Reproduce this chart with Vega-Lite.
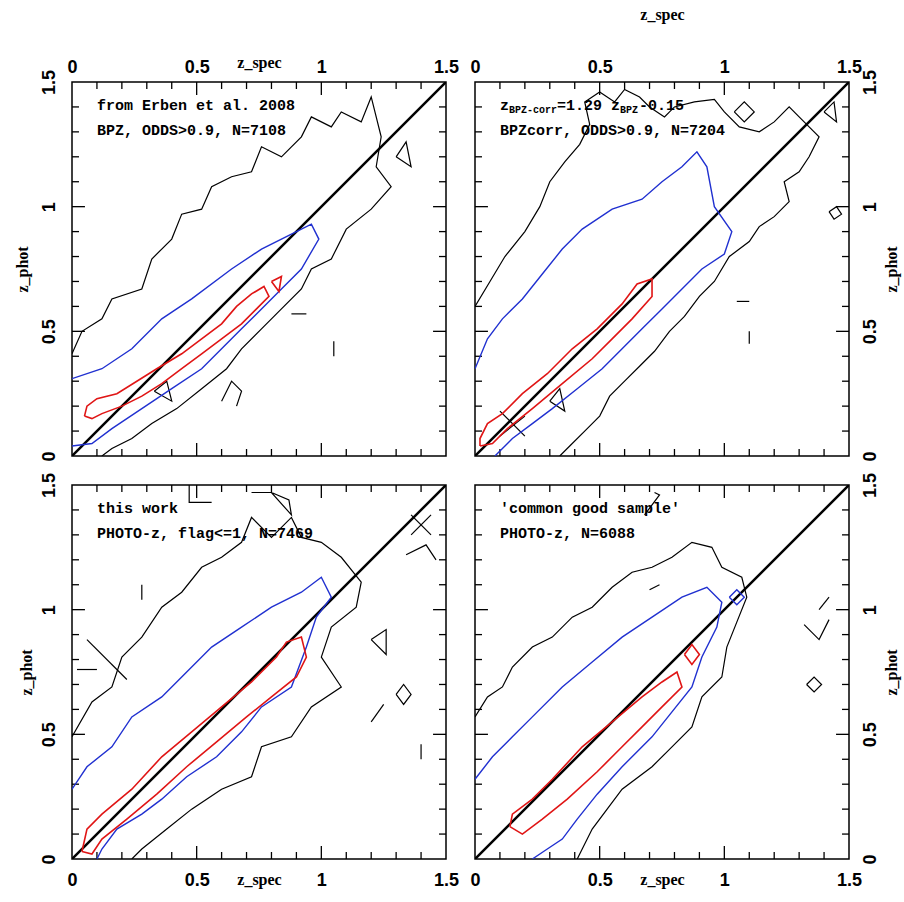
{
"$schema": "https://vega.github.io/schema/vega-lite/v6.json",
"background": "white",
"autosize": {"type": "pad"},
"padding": {"left": 13, "top": 5, "right": 3, "bottom": 3},
"config": {
  "view": {"stroke": "black", "strokeWidth": 1.5},
  "axis": {"domain": false, "grid": false, "ticks": false, "labelFont": "Liberation Sans", "labelFontSize": 18, "labelFontWeight": "bold", "labelColor": "black", "titleFont": "Liberation Serif", "titleFontSize": 16, "titleFontWeight": "bold", "titleColor": "black", "labelFlush": false, "labelOverlap": false}
},
"datasets": {
"d": [
{"p":0,"c":"t","g":"b1","i":0,"x":0.1,"y":0},{"p":0,"c":"t","g":"b1","i":1,"x":0.1,"y":0.028},{"p":0,"c":"t","g":"b2","i":0,"x":0.2,"y":0},{"p":0,"c":"t","g":"b2","i":1,"x":0.2,"y":0.028},{"p":0,"c":"t","g":"b3","i":0,"x":0.3,"y":0},{"p":0,"c":"t","g":"b3","i":1,"x":0.3,"y":0.028},{"p":0,"c":"t","g":"b4","i":0,"x":0.4,"y":0},{"p":0,"c":"t","g":"b4","i":1,"x":0.4,"y":0.028},{"p":0,"c":"t","g":"b5","i":0,"x":0.5,"y":0},{"p":0,"c":"t","g":"b5","i":1,"x":0.5,"y":0.052},{"p":0,"c":"t","g":"b6","i":0,"x":0.6,"y":0},{"p":0,"c":"t","g":"b6","i":1,"x":0.6,"y":0.028},{"p":0,"c":"t","g":"b7","i":0,"x":0.7,"y":0},{"p":0,"c":"t","g":"b7","i":1,"x":0.7,"y":0.028},{"p":0,"c":"t","g":"b8","i":0,"x":0.8,"y":0},{"p":0,"c":"t","g":"b8","i":1,"x":0.8,"y":0.028},{"p":0,"c":"t","g":"b9","i":0,"x":0.9,"y":0},{"p":0,"c":"t","g":"b9","i":1,"x":0.9,"y":0.028},{"p":0,"c":"t","g":"b10","i":0,"x":1.0,"y":0},{"p":0,"c":"t","g":"b10","i":1,"x":1.0,"y":0.052},{"p":0,"c":"t","g":"b11","i":0,"x":1.1,"y":0},{"p":0,"c":"t","g":"b11","i":1,"x":1.1,"y":0.028},{"p":0,"c":"t","g":"b12","i":0,"x":1.2,"y":0},{"p":0,"c":"t","g":"b12","i":1,"x":1.2,"y":0.028},{"p":0,"c":"t","g":"b13","i":0,"x":1.3,"y":0},{"p":0,"c":"t","g":"b13","i":1,"x":1.3,"y":0.028},{"p":0,"c":"t","g":"b14","i":0,"x":1.4,"y":0},{"p":0,"c":"t","g":"b14","i":1,"x":1.4,"y":0.028},
{"p":0,"c":"t","g":"t1","i":0,"x":0.1,"y":1.5},{"p":0,"c":"t","g":"t1","i":1,"x":0.1,"y":1.472},{"p":0,"c":"t","g":"t2","i":0,"x":0.2,"y":1.5},{"p":0,"c":"t","g":"t2","i":1,"x":0.2,"y":1.472},{"p":0,"c":"t","g":"t3","i":0,"x":0.3,"y":1.5},{"p":0,"c":"t","g":"t3","i":1,"x":0.3,"y":1.472},{"p":0,"c":"t","g":"t4","i":0,"x":0.4,"y":1.5},{"p":0,"c":"t","g":"t4","i":1,"x":0.4,"y":1.472},{"p":0,"c":"t","g":"t5","i":0,"x":0.5,"y":1.5},{"p":0,"c":"t","g":"t5","i":1,"x":0.5,"y":1.448},{"p":0,"c":"t","g":"t6","i":0,"x":0.6,"y":1.5},{"p":0,"c":"t","g":"t6","i":1,"x":0.6,"y":1.472},{"p":0,"c":"t","g":"t7","i":0,"x":0.7,"y":1.5},{"p":0,"c":"t","g":"t7","i":1,"x":0.7,"y":1.472},{"p":0,"c":"t","g":"t8","i":0,"x":0.8,"y":1.5},{"p":0,"c":"t","g":"t8","i":1,"x":0.8,"y":1.472},{"p":0,"c":"t","g":"t9","i":0,"x":0.9,"y":1.5},{"p":0,"c":"t","g":"t9","i":1,"x":0.9,"y":1.472},{"p":0,"c":"t","g":"t10","i":0,"x":1.0,"y":1.5},{"p":0,"c":"t","g":"t10","i":1,"x":1.0,"y":1.448},{"p":0,"c":"t","g":"t11","i":0,"x":1.1,"y":1.5},{"p":0,"c":"t","g":"t11","i":1,"x":1.1,"y":1.472},{"p":0,"c":"t","g":"t12","i":0,"x":1.2,"y":1.5},{"p":0,"c":"t","g":"t12","i":1,"x":1.2,"y":1.472},{"p":0,"c":"t","g":"t13","i":0,"x":1.3,"y":1.5},{"p":0,"c":"t","g":"t13","i":1,"x":1.3,"y":1.472},{"p":0,"c":"t","g":"t14","i":0,"x":1.4,"y":1.5},{"p":0,"c":"t","g":"t14","i":1,"x":1.4,"y":1.472},
{"p":0,"c":"t","g":"l1","i":0,"x":0,"y":0.1},{"p":0,"c":"t","g":"l1","i":1,"x":0.028,"y":0.1},{"p":0,"c":"t","g":"l2","i":0,"x":0,"y":0.2},{"p":0,"c":"t","g":"l2","i":1,"x":0.028,"y":0.2},{"p":0,"c":"t","g":"l3","i":0,"x":0,"y":0.3},{"p":0,"c":"t","g":"l3","i":1,"x":0.028,"y":0.3},{"p":0,"c":"t","g":"l4","i":0,"x":0,"y":0.4},{"p":0,"c":"t","g":"l4","i":1,"x":0.028,"y":0.4},{"p":0,"c":"t","g":"l5","i":0,"x":0,"y":0.5},{"p":0,"c":"t","g":"l5","i":1,"x":0.052,"y":0.5},{"p":0,"c":"t","g":"l6","i":0,"x":0,"y":0.6},{"p":0,"c":"t","g":"l6","i":1,"x":0.028,"y":0.6},{"p":0,"c":"t","g":"l7","i":0,"x":0,"y":0.7},{"p":0,"c":"t","g":"l7","i":1,"x":0.028,"y":0.7},{"p":0,"c":"t","g":"l8","i":0,"x":0,"y":0.8},{"p":0,"c":"t","g":"l8","i":1,"x":0.028,"y":0.8},{"p":0,"c":"t","g":"l9","i":0,"x":0,"y":0.9},{"p":0,"c":"t","g":"l9","i":1,"x":0.028,"y":0.9},{"p":0,"c":"t","g":"l10","i":0,"x":0,"y":1.0},{"p":0,"c":"t","g":"l10","i":1,"x":0.052,"y":1.0},{"p":0,"c":"t","g":"l11","i":0,"x":0,"y":1.1},{"p":0,"c":"t","g":"l11","i":1,"x":0.028,"y":1.1},{"p":0,"c":"t","g":"l12","i":0,"x":0,"y":1.2},{"p":0,"c":"t","g":"l12","i":1,"x":0.028,"y":1.2},{"p":0,"c":"t","g":"l13","i":0,"x":0,"y":1.3},{"p":0,"c":"t","g":"l13","i":1,"x":0.028,"y":1.3},{"p":0,"c":"t","g":"l14","i":0,"x":0,"y":1.4},{"p":0,"c":"t","g":"l14","i":1,"x":0.028,"y":1.4},
{"p":0,"c":"t","g":"r1","i":0,"x":1.5,"y":0.1},{"p":0,"c":"t","g":"r1","i":1,"x":1.472,"y":0.1},{"p":0,"c":"t","g":"r2","i":0,"x":1.5,"y":0.2},{"p":0,"c":"t","g":"r2","i":1,"x":1.472,"y":0.2},{"p":0,"c":"t","g":"r3","i":0,"x":1.5,"y":0.3},{"p":0,"c":"t","g":"r3","i":1,"x":1.472,"y":0.3},{"p":0,"c":"t","g":"r4","i":0,"x":1.5,"y":0.4},{"p":0,"c":"t","g":"r4","i":1,"x":1.472,"y":0.4},{"p":0,"c":"t","g":"r5","i":0,"x":1.5,"y":0.5},{"p":0,"c":"t","g":"r5","i":1,"x":1.448,"y":0.5},{"p":0,"c":"t","g":"r6","i":0,"x":1.5,"y":0.6},{"p":0,"c":"t","g":"r6","i":1,"x":1.472,"y":0.6},{"p":0,"c":"t","g":"r7","i":0,"x":1.5,"y":0.7},{"p":0,"c":"t","g":"r7","i":1,"x":1.472,"y":0.7},{"p":0,"c":"t","g":"r8","i":0,"x":1.5,"y":0.8},{"p":0,"c":"t","g":"r8","i":1,"x":1.472,"y":0.8},{"p":0,"c":"t","g":"r9","i":0,"x":1.5,"y":0.9},{"p":0,"c":"t","g":"r9","i":1,"x":1.472,"y":0.9},{"p":0,"c":"t","g":"r10","i":0,"x":1.5,"y":1.0},{"p":0,"c":"t","g":"r10","i":1,"x":1.448,"y":1.0},{"p":0,"c":"t","g":"r11","i":0,"x":1.5,"y":1.1},{"p":0,"c":"t","g":"r11","i":1,"x":1.472,"y":1.1},{"p":0,"c":"t","g":"r12","i":0,"x":1.5,"y":1.2},{"p":0,"c":"t","g":"r12","i":1,"x":1.472,"y":1.2},{"p":0,"c":"t","g":"r13","i":0,"x":1.5,"y":1.3},{"p":0,"c":"t","g":"r13","i":1,"x":1.472,"y":1.3},{"p":0,"c":"t","g":"r14","i":0,"x":1.5,"y":1.4},{"p":0,"c":"t","g":"r14","i":1,"x":1.472,"y":1.4},
{"p":1,"c":"k","g":1,"i":0,"x":0,"y":0.41},{"p":1,"c":"k","g":1,"i":1,"x":0.04,"y":0.5},{"p":1,"c":"k","g":1,"i":2,"x":0.12,"y":0.55},{"p":1,"c":"k","g":1,"i":3,"x":0.16,"y":0.63},{"p":1,"c":"k","g":1,"i":4,"x":0.28,"y":0.67},{"p":1,"c":"k","g":1,"i":5,"x":0.32,"y":0.79},{"p":1,"c":"k","g":1,"i":6,"x":0.4,"y":0.87},{"p":1,"c":"k","g":1,"i":7,"x":0.44,"y":0.97},{"p":1,"c":"k","g":1,"i":8,"x":0.52,"y":0.99},{"p":1,"c":"k","g":1,"i":9,"x":0.56,"y":1.08},{"p":1,"c":"k","g":1,"i":10,"x":0.64,"y":1.12},{"p":1,"c":"k","g":1,"i":11,"x":0.72,"y":1.14},{"p":1,"c":"k","g":1,"i":12,"x":0.76,"y":1.24},{"p":1,"c":"k","g":1,"i":13,"x":0.84,"y":1.2},{"p":1,"c":"k","g":1,"i":14,"x":0.92,"y":1.28},{"p":1,"c":"k","g":1,"i":15,"x":0.96,"y":1.36},{"p":1,"c":"k","g":1,"i":16,"x":1.04,"y":1.32},{"p":1,"c":"k","g":1,"i":17,"x":1.08,"y":1.38},{"p":1,"c":"k","g":1,"i":18,"x":1.16,"y":1.34},{"p":1,"c":"k","g":1,"i":19,"x":1.2,"y":1.44},{"p":1,"c":"k","g":1,"i":20,"x":1.24,"y":1.28},{"p":1,"c":"k","g":1,"i":21,"x":1.22,"y":1.16},{"p":1,"c":"k","g":1,"i":22,"x":1.28,"y":1.08},{"p":1,"c":"k","g":1,"i":23,"x":1.2,"y":0.99},{"p":1,"c":"k","g":1,"i":24,"x":1.1,"y":0.91},{"p":1,"c":"k","g":1,"i":25,"x":1.04,"y":0.79},{"p":1,"c":"k","g":1,"i":26,"x":0.96,"y":0.75},{"p":1,"c":"k","g":1,"i":27,"x":0.92,"y":0.67},{"p":1,"c":"k","g":1,"i":28,"x":0.84,"y":0.59},{"p":1,"c":"k","g":1,"i":29,"x":0.76,"y":0.51},{"p":1,"c":"k","g":1,"i":30,"x":0.68,"y":0.43},{"p":1,"c":"k","g":1,"i":31,"x":0.62,"y":0.35},{"p":1,"c":"k","g":1,"i":32,"x":0.52,"y":0.27},{"p":1,"c":"k","g":1,"i":33,"x":0.42,"y":0.19},{"p":1,"c":"k","g":1,"i":34,"x":0.32,"y":0.13},{"p":1,"c":"k","g":1,"i":35,"x":0.24,"y":0.07},{"p":1,"c":"k","g":1,"i":36,"x":0.16,"y":0.03},{"p":1,"c":"k","g":1,"i":37,"x":0.12,"y":0},
{"p":1,"c":"k","g":2,"i":0,"x":0.33,"y":0.26},{"p":1,"c":"k","g":2,"i":1,"x":0.4,"y":0.22},{"p":1,"c":"k","g":2,"i":2,"x":0.38,"y":0.3},{"p":1,"c":"k","g":2,"i":3,"x":0.33,"y":0.26},
{"p":1,"c":"k","g":3,"i":0,"x":0.6,"y":0.22},{"p":1,"c":"k","g":3,"i":1,"x":0.64,"y":0.3},{"p":1,"c":"k","g":3,"i":2,"x":0.68,"y":0.26},{"p":1,"c":"k","g":3,"i":3,"x":0.66,"y":0.2},
{"p":1,"c":"k","g":4,"i":0,"x":0.88,"y":0.57},{"p":1,"c":"k","g":4,"i":1,"x":0.94,"y":0.57},
{"p":1,"c":"k","g":5,"i":0,"x":1.05,"y":0.4},{"p":1,"c":"k","g":5,"i":1,"x":1.05,"y":0.46},
{"p":1,"c":"k","g":6,"i":0,"x":1.3,"y":1.2},{"p":1,"c":"k","g":6,"i":1,"x":1.36,"y":1.16},{"p":1,"c":"k","g":6,"i":2,"x":1.34,"y":1.26},{"p":1,"c":"k","g":6,"i":3,"x":1.3,"y":1.2},
{"p":1,"c":"b","g":10,"i":0,"x":0,"y":0.31},{"p":1,"c":"b","g":10,"i":1,"x":0.12,"y":0.35},{"p":1,"c":"b","g":10,"i":2,"x":0.24,"y":0.43},{"p":1,"c":"b","g":10,"i":3,"x":0.36,"y":0.55},{"p":1,"c":"b","g":10,"i":4,"x":0.48,"y":0.63},{"p":1,"c":"b","g":10,"i":5,"x":0.64,"y":0.75},{"p":1,"c":"b","g":10,"i":6,"x":0.76,"y":0.83},{"p":1,"c":"b","g":10,"i":7,"x":0.88,"y":0.89},{"p":1,"c":"b","g":10,"i":8,"x":0.96,"y":0.93},{"p":1,"c":"b","g":10,"i":9,"x":0.99,"y":0.87},{"p":1,"c":"b","g":10,"i":10,"x":0.92,"y":0.75},{"p":1,"c":"b","g":10,"i":11,"x":0.84,"y":0.67},{"p":1,"c":"b","g":10,"i":12,"x":0.76,"y":0.59},{"p":1,"c":"b","g":10,"i":13,"x":0.68,"y":0.51},{"p":1,"c":"b","g":10,"i":14,"x":0.6,"y":0.43},{"p":1,"c":"b","g":10,"i":15,"x":0.52,"y":0.35},{"p":1,"c":"b","g":10,"i":16,"x":0.4,"y":0.27},{"p":1,"c":"b","g":10,"i":17,"x":0.28,"y":0.19},{"p":1,"c":"b","g":10,"i":18,"x":0.16,"y":0.11},{"p":1,"c":"b","g":10,"i":19,"x":0.08,"y":0.05},{"p":1,"c":"b","g":10,"i":20,"x":0,"y":0.04},
{"p":1,"c":"r","g":20,"i":0,"x":0.05,"y":0.16},{"p":1,"c":"r","g":20,"i":1,"x":0.06,"y":0.2},{"p":1,"c":"r","g":20,"i":2,"x":0.1,"y":0.23},{"p":1,"c":"r","g":20,"i":3,"x":0.18,"y":0.25},{"p":1,"c":"r","g":20,"i":4,"x":0.26,"y":0.3},{"p":1,"c":"r","g":20,"i":5,"x":0.34,"y":0.35},{"p":1,"c":"r","g":20,"i":6,"x":0.44,"y":0.41},{"p":1,"c":"r","g":20,"i":7,"x":0.52,"y":0.47},{"p":1,"c":"r","g":20,"i":8,"x":0.6,"y":0.53},{"p":1,"c":"r","g":20,"i":9,"x":0.66,"y":0.6},{"p":1,"c":"r","g":20,"i":10,"x":0.72,"y":0.65},{"p":1,"c":"r","g":20,"i":11,"x":0.77,"y":0.68},{"p":1,"c":"r","g":20,"i":12,"x":0.79,"y":0.64},{"p":1,"c":"r","g":20,"i":13,"x":0.74,"y":0.59},{"p":1,"c":"r","g":20,"i":14,"x":0.68,"y":0.53},{"p":1,"c":"r","g":20,"i":15,"x":0.6,"y":0.47},{"p":1,"c":"r","g":20,"i":16,"x":0.52,"y":0.41},{"p":1,"c":"r","g":20,"i":17,"x":0.44,"y":0.35},{"p":1,"c":"r","g":20,"i":18,"x":0.36,"y":0.29},{"p":1,"c":"r","g":20,"i":19,"x":0.28,"y":0.24},{"p":1,"c":"r","g":20,"i":20,"x":0.2,"y":0.2},{"p":1,"c":"r","g":20,"i":21,"x":0.12,"y":0.17},{"p":1,"c":"r","g":20,"i":22,"x":0.08,"y":0.15},{"p":1,"c":"r","g":20,"i":23,"x":0.05,"y":0.16},
{"p":1,"c":"r","g":21,"i":0,"x":0.8,"y":0.7},{"p":1,"c":"r","g":21,"i":1,"x":0.84,"y":0.72},{"p":1,"c":"r","g":21,"i":2,"x":0.83,"y":0.66},{"p":1,"c":"r","g":21,"i":3,"x":0.8,"y":0.7},
{"p":2,"c":"k","g":1,"i":0,"x":0,"y":0.6},{"p":2,"c":"k","g":1,"i":1,"x":0.06,"y":0.7},{"p":2,"c":"k","g":1,"i":2,"x":0.12,"y":0.8},{"p":2,"c":"k","g":1,"i":3,"x":0.2,"y":0.9},{"p":2,"c":"k","g":1,"i":4,"x":0.26,"y":1.0},{"p":2,"c":"k","g":1,"i":5,"x":0.3,"y":1.1},{"p":2,"c":"k","g":1,"i":6,"x":0.36,"y":1.18},{"p":2,"c":"k","g":1,"i":7,"x":0.42,"y":1.25},{"p":2,"c":"k","g":1,"i":8,"x":0.46,"y":1.33},{"p":2,"c":"k","g":1,"i":9,"x":0.44,"y":1.42},{"p":2,"c":"k","g":1,"i":10,"x":0.5,"y":1.46},{"p":2,"c":"k","g":1,"i":11,"x":0.56,"y":1.42},{"p":2,"c":"k","g":1,"i":12,"x":0.6,"y":1.47},{"p":2,"c":"k","g":1,"i":13,"x":0.66,"y":1.44},{"p":2,"c":"k","g":1,"i":14,"x":0.7,"y":1.4},{"p":2,"c":"k","g":1,"i":15,"x":0.76,"y":1.36},{"p":2,"c":"k","g":1,"i":16,"x":0.8,"y":1.4},{"p":2,"c":"k","g":1,"i":17,"x":0.88,"y":1.42},{"p":2,"c":"k","g":1,"i":18,"x":0.96,"y":1.43},{"p":2,"c":"k","g":1,"i":19,"x":1.0,"y":1.38},{"p":2,"c":"k","g":1,"i":20,"x":1.06,"y":1.32},{"p":2,"c":"k","g":1,"i":21,"x":1.14,"y":1.3},{"p":2,"c":"k","g":1,"i":22,"x":1.2,"y":1.34},{"p":2,"c":"k","g":1,"i":23,"x":1.26,"y":1.4},{"p":2,"c":"k","g":1,"i":24,"x":1.3,"y":1.36},{"p":2,"c":"k","g":1,"i":25,"x":1.34,"y":1.32},{"p":2,"c":"k","g":1,"i":26,"x":1.38,"y":1.28},{"p":2,"c":"k","g":1,"i":27,"x":1.34,"y":1.2},{"p":2,"c":"k","g":1,"i":28,"x":1.3,"y":1.14},{"p":2,"c":"k","g":1,"i":29,"x":1.24,"y":1.1},{"p":2,"c":"k","g":1,"i":30,"x":1.26,"y":1.02},{"p":2,"c":"k","g":1,"i":31,"x":1.2,"y":0.96},{"p":2,"c":"k","g":1,"i":32,"x":1.14,"y":0.92},{"p":2,"c":"k","g":1,"i":33,"x":1.1,"y":0.86},{"p":2,"c":"k","g":1,"i":34,"x":1.02,"y":0.8},{"p":2,"c":"k","g":1,"i":35,"x":0.96,"y":0.7},{"p":2,"c":"k","g":1,"i":36,"x":0.9,"y":0.64},{"p":2,"c":"k","g":1,"i":37,"x":0.84,"y":0.56},{"p":2,"c":"k","g":1,"i":38,"x":0.78,"y":0.5},{"p":2,"c":"k","g":1,"i":39,"x":0.72,"y":0.42},{"p":2,"c":"k","g":1,"i":40,"x":0.66,"y":0.36},{"p":2,"c":"k","g":1,"i":41,"x":0.6,"y":0.3},{"p":2,"c":"k","g":1,"i":42,"x":0.54,"y":0.24},{"p":2,"c":"k","g":1,"i":43,"x":0.5,"y":0.16},{"p":2,"c":"k","g":1,"i":44,"x":0.44,"y":0.1},{"p":2,"c":"k","g":1,"i":45,"x":0.38,"y":0.04},{"p":2,"c":"k","g":1,"i":46,"x":0.34,"y":0},
{"p":2,"c":"k","g":2,"i":0,"x":1.04,"y":1.38},{"p":2,"c":"k","g":2,"i":1,"x":1.08,"y":1.42},{"p":2,"c":"k","g":2,"i":2,"x":1.12,"y":1.38},{"p":2,"c":"k","g":2,"i":3,"x":1.08,"y":1.34},{"p":2,"c":"k","g":2,"i":4,"x":1.04,"y":1.38},
{"p":2,"c":"k","g":3,"i":0,"x":1.4,"y":1.38},{"p":2,"c":"k","g":3,"i":1,"x":1.44,"y":1.42},{"p":2,"c":"k","g":3,"i":2,"x":1.45,"y":1.34},{"p":2,"c":"k","g":3,"i":3,"x":1.4,"y":1.38},
{"p":2,"c":"k","g":4,"i":0,"x":1.42,"y":0.98},{"p":2,"c":"k","g":4,"i":1,"x":1.45,"y":1.0},{"p":2,"c":"k","g":4,"i":2,"x":1.47,"y":0.97},{"p":2,"c":"k","g":4,"i":3,"x":1.44,"y":0.95},{"p":2,"c":"k","g":4,"i":4,"x":1.42,"y":0.98},
{"p":2,"c":"k","g":5,"i":0,"x":1.05,"y":0.62},{"p":2,"c":"k","g":5,"i":1,"x":1.1,"y":0.62},
{"p":2,"c":"k","g":6,"i":0,"x":1.1,"y":0.45},{"p":2,"c":"k","g":6,"i":1,"x":1.1,"y":0.5},
{"p":2,"c":"k","g":7,"i":0,"x":0.1,"y":0.18},{"p":2,"c":"k","g":7,"i":1,"x":0.2,"y":0.08},
{"p":2,"c":"k","g":8,"i":0,"x":0.1,"y":0.08},{"p":2,"c":"k","g":8,"i":1,"x":0.2,"y":0.16},
{"p":2,"c":"k","g":9,"i":0,"x":0.3,"y":0.22},{"p":2,"c":"k","g":9,"i":1,"x":0.36,"y":0.18},{"p":2,"c":"k","g":9,"i":2,"x":0.34,"y":0.27},{"p":2,"c":"k","g":9,"i":3,"x":0.3,"y":0.22},
{"p":2,"c":"b","g":10,"i":0,"x":0,"y":0.35},{"p":2,"c":"b","g":10,"i":1,"x":0.05,"y":0.47},{"p":2,"c":"b","g":10,"i":2,"x":0.11,"y":0.55},{"p":2,"c":"b","g":10,"i":3,"x":0.19,"y":0.63},{"p":2,"c":"b","g":10,"i":4,"x":0.27,"y":0.73},{"p":2,"c":"b","g":10,"i":5,"x":0.35,"y":0.83},{"p":2,"c":"b","g":10,"i":6,"x":0.43,"y":0.91},{"p":2,"c":"b","g":10,"i":7,"x":0.55,"y":0.99},{"p":2,"c":"b","g":10,"i":8,"x":0.67,"y":1.03},{"p":2,"c":"b","g":10,"i":9,"x":0.75,"y":1.1},{"p":2,"c":"b","g":10,"i":10,"x":0.83,"y":1.16},{"p":2,"c":"b","g":10,"i":11,"x":0.89,"y":1.22},{"p":2,"c":"b","g":10,"i":12,"x":0.93,"y":1.16},{"p":2,"c":"b","g":10,"i":13,"x":0.96,"y":1.0},{"p":2,"c":"b","g":10,"i":14,"x":1.03,"y":0.9},{"p":2,"c":"b","g":10,"i":15,"x":1.0,"y":0.81},{"p":2,"c":"b","g":10,"i":16,"x":0.91,"y":0.75},{"p":2,"c":"b","g":10,"i":17,"x":0.83,"y":0.67},{"p":2,"c":"b","g":10,"i":18,"x":0.75,"y":0.59},{"p":2,"c":"b","g":10,"i":19,"x":0.67,"y":0.51},{"p":2,"c":"b","g":10,"i":20,"x":0.59,"y":0.43},{"p":2,"c":"b","g":10,"i":21,"x":0.51,"y":0.35},{"p":2,"c":"b","g":10,"i":22,"x":0.41,"y":0.27},{"p":2,"c":"b","g":10,"i":23,"x":0.31,"y":0.19},{"p":2,"c":"b","g":10,"i":24,"x":0.23,"y":0.13},{"p":2,"c":"b","g":10,"i":25,"x":0.15,"y":0.07},{"p":2,"c":"b","g":10,"i":26,"x":0.09,"y":0.01},{"p":2,"c":"b","g":10,"i":27,"x":0.08,"y":0},
{"p":2,"c":"r","g":20,"i":0,"x":0.02,"y":0.04},{"p":2,"c":"r","g":20,"i":1,"x":0.02,"y":0.07},{"p":2,"c":"r","g":20,"i":2,"x":0.05,"y":0.13},{"p":2,"c":"r","g":20,"i":3,"x":0.11,"y":0.17},{"p":2,"c":"r","g":20,"i":4,"x":0.19,"y":0.25},{"p":2,"c":"r","g":20,"i":5,"x":0.29,"y":0.33},{"p":2,"c":"r","g":20,"i":6,"x":0.39,"y":0.43},{"p":2,"c":"r","g":20,"i":7,"x":0.49,"y":0.51},{"p":2,"c":"r","g":20,"i":8,"x":0.59,"y":0.61},{"p":2,"c":"r","g":20,"i":9,"x":0.65,"y":0.69},{"p":2,"c":"r","g":20,"i":10,"x":0.71,"y":0.71},{"p":2,"c":"r","g":20,"i":11,"x":0.71,"y":0.64},{"p":2,"c":"r","g":20,"i":12,"x":0.63,"y":0.55},{"p":2,"c":"r","g":20,"i":13,"x":0.55,"y":0.47},{"p":2,"c":"r","g":20,"i":14,"x":0.47,"y":0.39},{"p":2,"c":"r","g":20,"i":15,"x":0.35,"y":0.29},{"p":2,"c":"r","g":20,"i":16,"x":0.23,"y":0.19},{"p":2,"c":"r","g":20,"i":17,"x":0.13,"y":0.11},{"p":2,"c":"r","g":20,"i":18,"x":0.07,"y":0.05},{"p":2,"c":"r","g":20,"i":19,"x":0.02,"y":0.04},
{"p":3,"c":"k","g":1,"i":0,"x":0,"y":0.49},{"p":3,"c":"k","g":1,"i":1,"x":0.08,"y":0.63},{"p":3,"c":"k","g":1,"i":2,"x":0.16,"y":0.69},{"p":3,"c":"k","g":1,"i":3,"x":0.2,"y":0.81},{"p":3,"c":"k","g":1,"i":4,"x":0.28,"y":0.89},{"p":3,"c":"k","g":1,"i":5,"x":0.36,"y":1.01},{"p":3,"c":"k","g":1,"i":6,"x":0.44,"y":1.07},{"p":3,"c":"k","g":1,"i":7,"x":0.52,"y":1.17},{"p":3,"c":"k","g":1,"i":8,"x":0.6,"y":1.21},{"p":3,"c":"k","g":1,"i":9,"x":0.68,"y":1.27},{"p":3,"c":"k","g":1,"i":10,"x":0.72,"y":1.37},{"p":3,"c":"k","g":1,"i":11,"x":0.8,"y":1.29},{"p":3,"c":"k","g":1,"i":12,"x":0.88,"y":1.37},{"p":3,"c":"k","g":1,"i":13,"x":0.92,"y":1.29},{"p":3,"c":"k","g":1,"i":14,"x":1.0,"y":1.27},{"p":3,"c":"k","g":1,"i":15,"x":1.08,"y":1.21},{"p":3,"c":"k","g":1,"i":16,"x":1.16,"y":1.11},{"p":3,"c":"k","g":1,"i":17,"x":1.14,"y":1.01},{"p":3,"c":"k","g":1,"i":18,"x":1.04,"y":0.93},{"p":3,"c":"k","g":1,"i":19,"x":1.0,"y":0.81},{"p":3,"c":"k","g":1,"i":20,"x":1.08,"y":0.69},{"p":3,"c":"k","g":1,"i":21,"x":0.96,"y":0.61},{"p":3,"c":"k","g":1,"i":22,"x":0.88,"y":0.49},{"p":3,"c":"k","g":1,"i":23,"x":0.76,"y":0.45},{"p":3,"c":"k","g":1,"i":24,"x":0.72,"y":0.33},{"p":3,"c":"k","g":1,"i":25,"x":0.6,"y":0.28},{"p":3,"c":"k","g":1,"i":26,"x":0.48,"y":0.2},{"p":3,"c":"k","g":1,"i":27,"x":0.38,"y":0.12},{"p":3,"c":"k","g":1,"i":28,"x":0.28,"y":0.04},{"p":3,"c":"k","g":1,"i":29,"x":0.24,"y":0},
{"p":3,"c":"k","g":2,"i":0,"x":0.06,"y":0.88},{"p":3,"c":"k","g":2,"i":1,"x":0.22,"y":0.72},
{"p":3,"c":"k","g":3,"i":0,"x":0.02,"y":0.76},{"p":3,"c":"k","g":3,"i":1,"x":0.1,"y":0.76},
{"p":3,"c":"k","g":4,"i":0,"x":0.28,"y":1.04},{"p":3,"c":"k","g":4,"i":1,"x":0.28,"y":1.1},
{"p":3,"c":"k","g":5,"i":0,"x":0.47,"y":1.5},{"p":3,"c":"k","g":5,"i":1,"x":0.47,"y":1.43},{"p":3,"c":"k","g":5,"i":2,"x":0.56,"y":1.43},
{"p":3,"c":"k","g":6,"i":0,"x":0.72,"y":1.47},{"p":3,"c":"k","g":6,"i":1,"x":0.8,"y":1.47},{"p":3,"c":"k","g":6,"i":2,"x":0.88,"y":1.38},{"p":3,"c":"k","g":6,"i":3,"x":0.87,"y":1.44},{"p":3,"c":"k","g":6,"i":4,"x":0.8,"y":1.47},
{"p":3,"c":"k","g":7,"i":0,"x":1.36,"y":1.3},{"p":3,"c":"k","g":7,"i":1,"x":1.44,"y":1.38},
{"p":3,"c":"k","g":8,"i":0,"x":1.36,"y":1.38},{"p":3,"c":"k","g":8,"i":1,"x":1.44,"y":1.3},
{"p":3,"c":"k","g":9,"i":0,"x":1.34,"y":1.22},{"p":3,"c":"k","g":9,"i":1,"x":1.42,"y":1.26},{"p":3,"c":"k","g":9,"i":2,"x":1.46,"y":1.2},
{"p":3,"c":"k","g":10,"i":0,"x":1.3,"y":0.66},{"p":3,"c":"k","g":10,"i":1,"x":1.33,"y":0.7},{"p":3,"c":"k","g":10,"i":2,"x":1.36,"y":0.66},{"p":3,"c":"k","g":10,"i":3,"x":1.33,"y":0.62},{"p":3,"c":"k","g":10,"i":4,"x":1.3,"y":0.66},
{"p":3,"c":"k","g":11,"i":0,"x":1.4,"y":0.4},{"p":3,"c":"k","g":11,"i":1,"x":1.4,"y":0.46},
{"p":3,"c":"k","g":12,"i":0,"x":1.2,"y":0.55},{"p":3,"c":"k","g":12,"i":1,"x":1.25,"y":0.62},
{"p":3,"c":"k","g":13,"i":0,"x":1.2,"y":0.88},{"p":3,"c":"k","g":13,"i":1,"x":1.26,"y":0.82},{"p":3,"c":"k","g":13,"i":2,"x":1.26,"y":0.92},{"p":3,"c":"k","g":13,"i":3,"x":1.2,"y":0.88},
{"p":3,"c":"b","g":30,"i":0,"x":0,"y":0.28},{"p":3,"c":"b","g":30,"i":1,"x":0.06,"y":0.37},{"p":3,"c":"b","g":30,"i":2,"x":0.16,"y":0.45},{"p":3,"c":"b","g":30,"i":3,"x":0.24,"y":0.57},{"p":3,"c":"b","g":30,"i":4,"x":0.36,"y":0.65},{"p":3,"c":"b","g":30,"i":5,"x":0.44,"y":0.73},{"p":3,"c":"b","g":30,"i":6,"x":0.56,"y":0.85},{"p":3,"c":"b","g":30,"i":7,"x":0.68,"y":0.93},{"p":3,"c":"b","g":30,"i":8,"x":0.8,"y":1.01},{"p":3,"c":"b","g":30,"i":9,"x":0.92,"y":1.07},{"p":3,"c":"b","g":30,"i":10,"x":1.0,"y":1.13},{"p":3,"c":"b","g":30,"i":11,"x":1.04,"y":1.05},{"p":3,"c":"b","g":30,"i":12,"x":0.98,"y":0.97},{"p":3,"c":"b","g":30,"i":13,"x":0.94,"y":0.85},{"p":3,"c":"b","g":30,"i":14,"x":0.88,"y":0.69},{"p":3,"c":"b","g":30,"i":15,"x":0.76,"y":0.61},{"p":3,"c":"b","g":30,"i":16,"x":0.68,"y":0.51},{"p":3,"c":"b","g":30,"i":17,"x":0.58,"y":0.41},{"p":3,"c":"b","g":30,"i":18,"x":0.46,"y":0.33},{"p":3,"c":"b","g":30,"i":19,"x":0.36,"y":0.24},{"p":3,"c":"b","g":30,"i":20,"x":0.28,"y":0.18},{"p":3,"c":"b","g":30,"i":21,"x":0.18,"y":0.12},{"p":3,"c":"b","g":30,"i":22,"x":0.12,"y":0.04},{"p":3,"c":"b","g":30,"i":23,"x":0.1,"y":0},
{"p":3,"c":"r","g":40,"i":0,"x":0.04,"y":0.03},{"p":3,"c":"r","g":40,"i":1,"x":0.06,"y":0.12},{"p":3,"c":"r","g":40,"i":2,"x":0.12,"y":0.18},{"p":3,"c":"r","g":40,"i":3,"x":0.24,"y":0.28},{"p":3,"c":"r","g":40,"i":4,"x":0.36,"y":0.41},{"p":3,"c":"r","g":40,"i":5,"x":0.48,"y":0.51},{"p":3,"c":"r","g":40,"i":6,"x":0.6,"y":0.61},{"p":3,"c":"r","g":40,"i":7,"x":0.72,"y":0.71},{"p":3,"c":"r","g":40,"i":8,"x":0.82,"y":0.81},{"p":3,"c":"r","g":40,"i":9,"x":0.86,"y":0.87},{"p":3,"c":"r","g":40,"i":10,"x":0.92,"y":0.89},{"p":3,"c":"r","g":40,"i":11,"x":0.94,"y":0.81},{"p":3,"c":"r","g":40,"i":12,"x":0.9,"y":0.73},{"p":3,"c":"r","g":40,"i":13,"x":0.8,"y":0.65},{"p":3,"c":"r","g":40,"i":14,"x":0.7,"y":0.57},{"p":3,"c":"r","g":40,"i":15,"x":0.58,"y":0.47},{"p":3,"c":"r","g":40,"i":16,"x":0.46,"y":0.37},{"p":3,"c":"r","g":40,"i":17,"x":0.34,"y":0.26},{"p":3,"c":"r","g":40,"i":18,"x":0.22,"y":0.16},{"p":3,"c":"r","g":40,"i":19,"x":0.12,"y":0.08},{"p":3,"c":"r","g":40,"i":20,"x":0.08,"y":0.02},{"p":3,"c":"r","g":40,"i":21,"x":0.04,"y":0.03},
{"p":4,"c":"k","g":1,"i":0,"x":0,"y":0.57},{"p":4,"c":"k","g":1,"i":1,"x":0.05,"y":0.65},{"p":4,"c":"k","g":1,"i":2,"x":0.11,"y":0.69},{"p":4,"c":"k","g":1,"i":3,"x":0.15,"y":0.77},{"p":4,"c":"k","g":1,"i":4,"x":0.23,"y":0.85},{"p":4,"c":"k","g":1,"i":5,"x":0.31,"y":0.89},{"p":4,"c":"k","g":1,"i":6,"x":0.39,"y":0.97},{"p":4,"c":"k","g":1,"i":7,"x":0.47,"y":1.01},{"p":4,"c":"k","g":1,"i":8,"x":0.55,"y":1.09},{"p":4,"c":"k","g":1,"i":9,"x":0.63,"y":1.15},{"p":4,"c":"k","g":1,"i":10,"x":0.71,"y":1.17},{"p":4,"c":"k","g":1,"i":11,"x":0.79,"y":1.21},{"p":4,"c":"k","g":1,"i":12,"x":0.87,"y":1.27},{"p":4,"c":"k","g":1,"i":13,"x":0.95,"y":1.25},{"p":4,"c":"k","g":1,"i":14,"x":0.99,"y":1.17},{"p":4,"c":"k","g":1,"i":15,"x":1.07,"y":1.13},{"p":4,"c":"k","g":1,"i":16,"x":1.09,"y":1.05},{"p":4,"c":"k","g":1,"i":17,"x":1.05,"y":0.95},{"p":4,"c":"k","g":1,"i":18,"x":1.01,"y":0.85},{"p":4,"c":"k","g":1,"i":19,"x":0.99,"y":0.73},{"p":4,"c":"k","g":1,"i":20,"x":0.91,"y":0.65},{"p":4,"c":"k","g":1,"i":21,"x":0.87,"y":0.53},{"p":4,"c":"k","g":1,"i":22,"x":0.79,"y":0.45},{"p":4,"c":"k","g":1,"i":23,"x":0.71,"y":0.37},{"p":4,"c":"k","g":1,"i":24,"x":0.59,"y":0.28},{"p":4,"c":"k","g":1,"i":25,"x":0.53,"y":0.2},{"p":4,"c":"k","g":1,"i":26,"x":0.47,"y":0.12},{"p":4,"c":"k","g":1,"i":27,"x":0.43,"y":0.04},{"p":4,"c":"k","g":1,"i":28,"x":0.41,"y":0},
{"p":4,"c":"k","g":2,"i":0,"x":0.68,"y":1.38},{"p":4,"c":"k","g":2,"i":1,"x":0.74,"y":1.46},{"p":4,"c":"k","g":2,"i":2,"x":0.72,"y":1.47},
{"p":4,"c":"k","g":3,"i":0,"x":0.7,"y":1.08},{"p":4,"c":"k","g":3,"i":1,"x":0.74,"y":1.1},
{"p":4,"c":"k","g":4,"i":0,"x":1.32,"y":0.94},{"p":4,"c":"k","g":4,"i":1,"x":1.38,"y":0.88},{"p":4,"c":"k","g":4,"i":2,"x":1.42,"y":0.96},
{"p":4,"c":"k","g":5,"i":0,"x":1.38,"y":1.0},{"p":4,"c":"k","g":5,"i":1,"x":1.42,"y":1.05},
{"p":4,"c":"k","g":6,"i":0,"x":1.33,"y":0.7},{"p":4,"c":"k","g":6,"i":1,"x":1.36,"y":0.73},{"p":4,"c":"k","g":6,"i":2,"x":1.39,"y":0.7},{"p":4,"c":"k","g":6,"i":3,"x":1.36,"y":0.67},{"p":4,"c":"k","g":6,"i":4,"x":1.33,"y":0.7},
{"p":4,"c":"b","g":10,"i":0,"x":0,"y":0.32},{"p":4,"c":"b","g":10,"i":1,"x":0.07,"y":0.41},{"p":4,"c":"b","g":10,"i":2,"x":0.15,"y":0.49},{"p":4,"c":"b","g":10,"i":3,"x":0.23,"y":0.57},{"p":4,"c":"b","g":10,"i":4,"x":0.35,"y":0.69},{"p":4,"c":"b","g":10,"i":5,"x":0.47,"y":0.79},{"p":4,"c":"b","g":10,"i":6,"x":0.59,"y":0.89},{"p":4,"c":"b","g":10,"i":7,"x":0.71,"y":0.97},{"p":4,"c":"b","g":10,"i":8,"x":0.83,"y":1.05},{"p":4,"c":"b","g":10,"i":9,"x":0.93,"y":1.09},{"p":4,"c":"b","g":10,"i":10,"x":0.99,"y":1.03},{"p":4,"c":"b","g":10,"i":11,"x":0.97,"y":0.93},{"p":4,"c":"b","g":10,"i":12,"x":0.91,"y":0.81},{"p":4,"c":"b","g":10,"i":13,"x":0.87,"y":0.69},{"p":4,"c":"b","g":10,"i":14,"x":0.79,"y":0.59},{"p":4,"c":"b","g":10,"i":15,"x":0.71,"y":0.49},{"p":4,"c":"b","g":10,"i":16,"x":0.59,"y":0.37},{"p":4,"c":"b","g":10,"i":17,"x":0.49,"y":0.26},{"p":4,"c":"b","g":10,"i":18,"x":0.41,"y":0.16},{"p":4,"c":"b","g":10,"i":19,"x":0.35,"y":0.08},{"p":4,"c":"b","g":10,"i":20,"x":0.29,"y":0.04},{"p":4,"c":"b","g":10,"i":21,"x":0.23,"y":0},
{"p":4,"c":"b","g":11,"i":0,"x":1.02,"y":1.05},{"p":4,"c":"b","g":11,"i":1,"x":1.05,"y":1.08},{"p":4,"c":"b","g":11,"i":2,"x":1.08,"y":1.05},{"p":4,"c":"b","g":11,"i":3,"x":1.05,"y":1.02},{"p":4,"c":"b","g":11,"i":4,"x":1.02,"y":1.05},
{"p":4,"c":"r","g":20,"i":0,"x":0.14,"y":0.13},{"p":4,"c":"r","g":20,"i":1,"x":0.15,"y":0.18},{"p":4,"c":"r","g":20,"i":2,"x":0.23,"y":0.24},{"p":4,"c":"r","g":20,"i":3,"x":0.31,"y":0.32},{"p":4,"c":"r","g":20,"i":4,"x":0.43,"y":0.45},{"p":4,"c":"r","g":20,"i":5,"x":0.55,"y":0.55},{"p":4,"c":"r","g":20,"i":6,"x":0.67,"y":0.65},{"p":4,"c":"r","g":20,"i":7,"x":0.75,"y":0.71},{"p":4,"c":"r","g":20,"i":8,"x":0.81,"y":0.75},{"p":4,"c":"r","g":20,"i":9,"x":0.83,"y":0.69},{"p":4,"c":"r","g":20,"i":10,"x":0.75,"y":0.61},{"p":4,"c":"r","g":20,"i":11,"x":0.67,"y":0.53},{"p":4,"c":"r","g":20,"i":12,"x":0.59,"y":0.45},{"p":4,"c":"r","g":20,"i":13,"x":0.49,"y":0.35},{"p":4,"c":"r","g":20,"i":14,"x":0.37,"y":0.24},{"p":4,"c":"r","g":20,"i":15,"x":0.27,"y":0.16},{"p":4,"c":"r","g":20,"i":16,"x":0.19,"y":0.1},{"p":4,"c":"r","g":20,"i":17,"x":0.14,"y":0.13},
{"p":4,"c":"r","g":21,"i":0,"x":0.84,"y":0.82},{"p":4,"c":"r","g":21,"i":1,"x":0.87,"y":0.86},{"p":4,"c":"r","g":21,"i":2,"x":0.9,"y":0.82},{"p":4,"c":"r","g":21,"i":3,"x":0.87,"y":0.78},{"p":4,"c":"r","g":21,"i":4,"x":0.84,"y":0.82}
]
},
"columns": 2,
"spacing": 29,
"bounds": "flush",
"concat": [
{"width": 374, "height": 374, "resolve": {"axis": {"x": "independent", "y": "independent"}},
 "layer": [
  {"data": {"values": [{"x": 0, "y": 0}, {"x": 1.5, "y": 1.5}]}, "mark": {"type": "line", "color": "black", "strokeWidth": 2.5, "clip": true},
   "encoding": {"x": {"field": "x", "type": "quantitative", "scale": {"domain": [0, 1.5], "nice": false, "zero": false}, "axis": {"orient": "top", "values": [0, 0.5, 1, 1.5], "format": "~g", "labelPadding": 6, "title": "z_spec", "titlePadding": -12}},
                "y": {"field": "y", "type": "quantitative", "scale": {"domain": [0, 1.5], "nice": false, "zero": false}, "axis": {"orient": "left", "values": [0, 0.5, 1, 1.5], "format": "~g", "labelAngle": -90, "labelAlign": "center", "labelBaseline": "bottom", "labelPadding": 14, "title": "z_phot", "titleAngle": -90, "titleBaseline": "bottom", "titlePadding": 10}}}},
  {"data": {"name": "d"}, "transform": [{"filter": "datum.c=='t'"}], "mark": {"type": "line", "color": "black", "strokeWidth": 1.3, "clip": true},
   "encoding": {"x": {"field": "x", "type": "quantitative", "scale": {"domain": [0, 1.5], "nice": false, "zero": false}, "axis": null}, "y": {"field": "y", "type": "quantitative", "scale": {"domain": [0, 1.5], "nice": false, "zero": false}, "axis": null}, "detail": {"field": "g", "type": "nominal"}, "order": {"field": "i", "type": "quantitative"}}},
  {"data": {"name": "d"}, "transform": [{"filter": "datum.p==1 && datum.c=='k'"}], "mark": {"type": "line", "color": "black", "strokeWidth": 1.2, "clip": true},
   "encoding": {"x": {"field": "x", "type": "quantitative", "scale": {"domain": [0, 1.5], "nice": false, "zero": false}, "axis": null}, "y": {"field": "y", "type": "quantitative", "scale": {"domain": [0, 1.5], "nice": false, "zero": false}, "axis": null}, "detail": {"field": "g", "type": "nominal"}, "order": {"field": "i", "type": "quantitative"}}},
  {"data": {"name": "d"}, "transform": [{"filter": "datum.p==1 && datum.c=='b'"}], "mark": {"type": "line", "color": "#2030d0", "strokeWidth": 1.4, "clip": true},
   "encoding": {"x": {"field": "x", "type": "quantitative", "scale": {"domain": [0, 1.5], "nice": false, "zero": false}, "axis": null}, "y": {"field": "y", "type": "quantitative", "scale": {"domain": [0, 1.5], "nice": false, "zero": false}, "axis": null}, "detail": {"field": "g", "type": "nominal"}, "order": {"field": "i", "type": "quantitative"}}},
  {"data": {"name": "d"}, "transform": [{"filter": "datum.p==1 && datum.c=='r'"}], "mark": {"type": "line", "color": "#e01515", "strokeWidth": 1.6, "clip": true},
   "encoding": {"x": {"field": "x", "type": "quantitative", "scale": {"domain": [0, 1.5], "nice": false, "zero": false}, "axis": null}, "y": {"field": "y", "type": "quantitative", "scale": {"domain": [0, 1.5], "nice": false, "zero": false}, "axis": null}, "detail": {"field": "g", "type": "nominal"}, "order": {"field": "i", "type": "quantitative"}}},
  {"data": {"values": [{}]}, "mark": {"type": "text", "align": "left", "baseline": "top", "font": "Liberation Mono", "fontSize": 15, "fontWeight": "bold", "lineHeight": 25, "color": "black"},
   "encoding": {"x": {"datum": 0.1, "type": "quantitative", "scale": {"domain": [0, 1.5], "nice": false, "zero": false}, "axis": null}, "y": {"datum": 1.436, "type": "quantitative", "scale": {"domain": [0, 1.5], "nice": false, "zero": false}, "axis": null},
                "text": {"value": ["from Erben et al. 2008", "BPZ, ODDS>0.9, N=7108"]}}}
 ]},
{"width": 374, "height": 374, "resolve": {"axis": {"x": "independent", "y": "independent"}},
 "layer": [
  {"data": {"values": [{"x": 0, "y": 0}, {"x": 1.5, "y": 1.5}]}, "mark": {"type": "line", "color": "black", "strokeWidth": 2.5, "clip": true},
   "encoding": {"x": {"field": "x", "type": "quantitative", "scale": {"domain": [0, 1.5], "nice": false, "zero": false}, "axis": {"orient": "top", "values": [0, 0.5, 1, 1.5], "format": "~g", "labelPadding": 6, "title": "z_spec", "titlePadding": 36}},
                "y": {"field": "y", "type": "quantitative", "scale": {"domain": [0, 1.5], "nice": false, "zero": false}, "axis": {"orient": "right", "values": [0, 0.5, 1, 1.5], "format": "~g", "labelAngle": -90, "labelAlign": "center", "labelBaseline": "top", "labelPadding": 12, "title": "z_phot", "titleAngle": -90, "titleBaseline": "top", "titlePadding": 4}}}},
  {"data": {"name": "d"}, "transform": [{"filter": "datum.c=='t'"}], "mark": {"type": "line", "color": "black", "strokeWidth": 1.3, "clip": true},
   "encoding": {"x": {"field": "x", "type": "quantitative", "scale": {"domain": [0, 1.5], "nice": false, "zero": false}, "axis": null}, "y": {"field": "y", "type": "quantitative", "scale": {"domain": [0, 1.5], "nice": false, "zero": false}, "axis": null}, "detail": {"field": "g", "type": "nominal"}, "order": {"field": "i", "type": "quantitative"}}},
  {"data": {"name": "d"}, "transform": [{"filter": "datum.p==2 && datum.c=='k'"}], "mark": {"type": "line", "color": "black", "strokeWidth": 1.2, "clip": true},
   "encoding": {"x": {"field": "x", "type": "quantitative", "scale": {"domain": [0, 1.5], "nice": false, "zero": false}, "axis": null}, "y": {"field": "y", "type": "quantitative", "scale": {"domain": [0, 1.5], "nice": false, "zero": false}, "axis": null}, "detail": {"field": "g", "type": "nominal"}, "order": {"field": "i", "type": "quantitative"}}},
  {"data": {"name": "d"}, "transform": [{"filter": "datum.p==2 && datum.c=='b'"}], "mark": {"type": "line", "color": "#2030d0", "strokeWidth": 1.4, "clip": true},
   "encoding": {"x": {"field": "x", "type": "quantitative", "scale": {"domain": [0, 1.5], "nice": false, "zero": false}, "axis": null}, "y": {"field": "y", "type": "quantitative", "scale": {"domain": [0, 1.5], "nice": false, "zero": false}, "axis": null}, "detail": {"field": "g", "type": "nominal"}, "order": {"field": "i", "type": "quantitative"}}},
  {"data": {"name": "d"}, "transform": [{"filter": "datum.p==2 && datum.c=='r'"}], "mark": {"type": "line", "color": "#e01515", "strokeWidth": 1.6, "clip": true},
   "encoding": {"x": {"field": "x", "type": "quantitative", "scale": {"domain": [0, 1.5], "nice": false, "zero": false}, "axis": null}, "y": {"field": "y", "type": "quantitative", "scale": {"domain": [0, 1.5], "nice": false, "zero": false}, "axis": null}, "detail": {"field": "g", "type": "nominal"}, "order": {"field": "i", "type": "quantitative"}}},
  {"data": {"values": [{}]}, "mark": {"type": "text", "align": "left", "baseline": "top", "font": "Liberation Mono", "fontSize": 15, "fontWeight": "bold", "color": "black"},
   "encoding": {"x": {"datum": 0.1, "type": "quantitative", "scale": {"domain": [0, 1.5], "nice": false, "zero": false}, "axis": null}, "y": {"datum": 1.436, "type": "quantitative", "scale": {"domain": [0, 1.5], "nice": false, "zero": false}, "axis": null}, "text": {"value": "z"}}},
  {"data": {"values": [{}]}, "mark": {"type": "text", "align": "left", "baseline": "top", "font": "Liberation Mono", "fontSize": 10, "fontWeight": "bold", "color": "black", "dx": 9, "dy": 7},
   "encoding": {"x": {"datum": 0.1, "type": "quantitative", "scale": {"domain": [0, 1.5], "nice": false, "zero": false}, "axis": null}, "y": {"datum": 1.436, "type": "quantitative", "scale": {"domain": [0, 1.5], "nice": false, "zero": false}, "axis": null}, "text": {"value": "BPZ-corr"}}},
  {"data": {"values": [{}]}, "mark": {"type": "text", "align": "left", "baseline": "top", "font": "Liberation Mono", "fontSize": 15, "fontWeight": "bold", "color": "black", "dx": 57},
   "encoding": {"x": {"datum": 0.1, "type": "quantitative", "scale": {"domain": [0, 1.5], "nice": false, "zero": false}, "axis": null}, "y": {"datum": 1.436, "type": "quantitative", "scale": {"domain": [0, 1.5], "nice": false, "zero": false}, "axis": null}, "text": {"value": "=1.29 z"}}},
  {"data": {"values": [{}]}, "mark": {"type": "text", "align": "left", "baseline": "top", "font": "Liberation Mono", "fontSize": 10, "fontWeight": "bold", "color": "black", "dx": 120, "dy": 7},
   "encoding": {"x": {"datum": 0.1, "type": "quantitative", "scale": {"domain": [0, 1.5], "nice": false, "zero": false}, "axis": null}, "y": {"datum": 1.436, "type": "quantitative", "scale": {"domain": [0, 1.5], "nice": false, "zero": false}, "axis": null}, "text": {"value": "BPZ"}}},
  {"data": {"values": [{}]}, "mark": {"type": "text", "align": "left", "baseline": "top", "font": "Liberation Mono", "fontSize": 15, "fontWeight": "bold", "color": "black", "dx": 139},
   "encoding": {"x": {"datum": 0.1, "type": "quantitative", "scale": {"domain": [0, 1.5], "nice": false, "zero": false}, "axis": null}, "y": {"datum": 1.436, "type": "quantitative", "scale": {"domain": [0, 1.5], "nice": false, "zero": false}, "axis": null}, "text": {"value": "-0.15"}}},
  {"data": {"values": [{}]}, "mark": {"type": "text", "align": "left", "baseline": "top", "font": "Liberation Mono", "fontSize": 15, "fontWeight": "bold", "color": "black", "dy": 25},
   "encoding": {"x": {"datum": 0.1, "type": "quantitative", "scale": {"domain": [0, 1.5], "nice": false, "zero": false}, "axis": null}, "y": {"datum": 1.436, "type": "quantitative", "scale": {"domain": [0, 1.5], "nice": false, "zero": false}, "axis": null}, "text": {"value": "BPZcorr, ODDS>0.9, N=7204"}}}
 ]},
{"width": 374, "height": 374, "resolve": {"axis": {"x": "independent", "y": "independent"}},
 "layer": [
  {"data": {"values": [{"x": 0, "y": 0}, {"x": 1.5, "y": 1.5}]}, "mark": {"type": "line", "color": "black", "strokeWidth": 2.5, "clip": true},
   "encoding": {"x": {"field": "x", "type": "quantitative", "scale": {"domain": [0, 1.5], "nice": false, "zero": false}, "axis": {"orient": "bottom", "values": [0, 0.5, 1, 1.5], "format": "~g", "labelPadding": 12, "title": "z_spec", "titlePadding": -18}},
                "y": {"field": "y", "type": "quantitative", "scale": {"domain": [0, 1.5], "nice": false, "zero": false}, "axis": {"orient": "left", "values": [0, 0.5, 1, 1.5], "format": "~g", "labelAngle": -90, "labelAlign": "center", "labelBaseline": "bottom", "labelPadding": 14, "title": "z_phot", "titleAngle": -90, "titleBaseline": "bottom", "titlePadding": 6}}}},
  {"data": {"name": "d"}, "transform": [{"filter": "datum.c=='t'"}], "mark": {"type": "line", "color": "black", "strokeWidth": 1.3, "clip": true},
   "encoding": {"x": {"field": "x", "type": "quantitative", "scale": {"domain": [0, 1.5], "nice": false, "zero": false}, "axis": null}, "y": {"field": "y", "type": "quantitative", "scale": {"domain": [0, 1.5], "nice": false, "zero": false}, "axis": null}, "detail": {"field": "g", "type": "nominal"}, "order": {"field": "i", "type": "quantitative"}}},
  {"data": {"name": "d"}, "transform": [{"filter": "datum.p==3 && datum.c=='k'"}], "mark": {"type": "line", "color": "black", "strokeWidth": 1.2, "clip": true},
   "encoding": {"x": {"field": "x", "type": "quantitative", "scale": {"domain": [0, 1.5], "nice": false, "zero": false}, "axis": null}, "y": {"field": "y", "type": "quantitative", "scale": {"domain": [0, 1.5], "nice": false, "zero": false}, "axis": null}, "detail": {"field": "g", "type": "nominal"}, "order": {"field": "i", "type": "quantitative"}}},
  {"data": {"name": "d"}, "transform": [{"filter": "datum.p==3 && datum.c=='b'"}], "mark": {"type": "line", "color": "#2030d0", "strokeWidth": 1.4, "clip": true},
   "encoding": {"x": {"field": "x", "type": "quantitative", "scale": {"domain": [0, 1.5], "nice": false, "zero": false}, "axis": null}, "y": {"field": "y", "type": "quantitative", "scale": {"domain": [0, 1.5], "nice": false, "zero": false}, "axis": null}, "detail": {"field": "g", "type": "nominal"}, "order": {"field": "i", "type": "quantitative"}}},
  {"data": {"name": "d"}, "transform": [{"filter": "datum.p==3 && datum.c=='r'"}], "mark": {"type": "line", "color": "#e01515", "strokeWidth": 1.6, "clip": true},
   "encoding": {"x": {"field": "x", "type": "quantitative", "scale": {"domain": [0, 1.5], "nice": false, "zero": false}, "axis": null}, "y": {"field": "y", "type": "quantitative", "scale": {"domain": [0, 1.5], "nice": false, "zero": false}, "axis": null}, "detail": {"field": "g", "type": "nominal"}, "order": {"field": "i", "type": "quantitative"}}},
  {"data": {"values": [{}]}, "mark": {"type": "text", "align": "left", "baseline": "top", "font": "Liberation Mono", "fontSize": 15, "fontWeight": "bold", "lineHeight": 25, "color": "black"},
   "encoding": {"x": {"datum": 0.1, "type": "quantitative", "scale": {"domain": [0, 1.5], "nice": false, "zero": false}, "axis": null}, "y": {"datum": 1.436, "type": "quantitative", "scale": {"domain": [0, 1.5], "nice": false, "zero": false}, "axis": null},
                "text": {"value": ["this work", "PHOTO-z, flag<=1, N=7469"]}}}
 ]},
{"width": 374, "height": 374, "resolve": {"axis": {"x": "independent", "y": "independent"}},
 "layer": [
  {"data": {"values": [{"x": 0, "y": 0}, {"x": 1.5, "y": 1.5}]}, "mark": {"type": "line", "color": "black", "strokeWidth": 2.5, "clip": true},
   "encoding": {"x": {"field": "x", "type": "quantitative", "scale": {"domain": [0, 1.5], "nice": false, "zero": false}, "axis": {"orient": "bottom", "values": [0, 0.5, 1, 1.5], "format": "~g", "labelPadding": 12, "title": "z_spec", "titlePadding": -18}},
                "y": {"field": "y", "type": "quantitative", "scale": {"domain": [0, 1.5], "nice": false, "zero": false}, "axis": {"orient": "right", "values": [0, 0.5, 1, 1.5], "format": "~g", "labelAngle": -90, "labelAlign": "center", "labelBaseline": "top", "labelPadding": 12, "title": "z_phot", "titleAngle": -90, "titleBaseline": "top", "titlePadding": 4}}}},
  {"data": {"name": "d"}, "transform": [{"filter": "datum.c=='t'"}], "mark": {"type": "line", "color": "black", "strokeWidth": 1.3, "clip": true},
   "encoding": {"x": {"field": "x", "type": "quantitative", "scale": {"domain": [0, 1.5], "nice": false, "zero": false}, "axis": null}, "y": {"field": "y", "type": "quantitative", "scale": {"domain": [0, 1.5], "nice": false, "zero": false}, "axis": null}, "detail": {"field": "g", "type": "nominal"}, "order": {"field": "i", "type": "quantitative"}}},
  {"data": {"name": "d"}, "transform": [{"filter": "datum.p==4 && datum.c=='k'"}], "mark": {"type": "line", "color": "black", "strokeWidth": 1.2, "clip": true},
   "encoding": {"x": {"field": "x", "type": "quantitative", "scale": {"domain": [0, 1.5], "nice": false, "zero": false}, "axis": null}, "y": {"field": "y", "type": "quantitative", "scale": {"domain": [0, 1.5], "nice": false, "zero": false}, "axis": null}, "detail": {"field": "g", "type": "nominal"}, "order": {"field": "i", "type": "quantitative"}}},
  {"data": {"name": "d"}, "transform": [{"filter": "datum.p==4 && datum.c=='b'"}], "mark": {"type": "line", "color": "#2030d0", "strokeWidth": 1.4, "clip": true},
   "encoding": {"x": {"field": "x", "type": "quantitative", "scale": {"domain": [0, 1.5], "nice": false, "zero": false}, "axis": null}, "y": {"field": "y", "type": "quantitative", "scale": {"domain": [0, 1.5], "nice": false, "zero": false}, "axis": null}, "detail": {"field": "g", "type": "nominal"}, "order": {"field": "i", "type": "quantitative"}}},
  {"data": {"name": "d"}, "transform": [{"filter": "datum.p==4 && datum.c=='r'"}], "mark": {"type": "line", "color": "#e01515", "strokeWidth": 1.6, "clip": true},
   "encoding": {"x": {"field": "x", "type": "quantitative", "scale": {"domain": [0, 1.5], "nice": false, "zero": false}, "axis": null}, "y": {"field": "y", "type": "quantitative", "scale": {"domain": [0, 1.5], "nice": false, "zero": false}, "axis": null}, "detail": {"field": "g", "type": "nominal"}, "order": {"field": "i", "type": "quantitative"}}},
  {"data": {"values": [{}]}, "mark": {"type": "text", "align": "left", "baseline": "top", "font": "Liberation Mono", "fontSize": 15, "fontWeight": "bold", "lineHeight": 25, "color": "black"},
   "encoding": {"x": {"datum": 0.1, "type": "quantitative", "scale": {"domain": [0, 1.5], "nice": false, "zero": false}, "axis": null}, "y": {"datum": 1.436, "type": "quantitative", "scale": {"domain": [0, 1.5], "nice": false, "zero": false}, "axis": null},
                "text": {"value": ["'common good sample'", "PHOTO-z,  N=6088"]}}}
 ]}
]
}
